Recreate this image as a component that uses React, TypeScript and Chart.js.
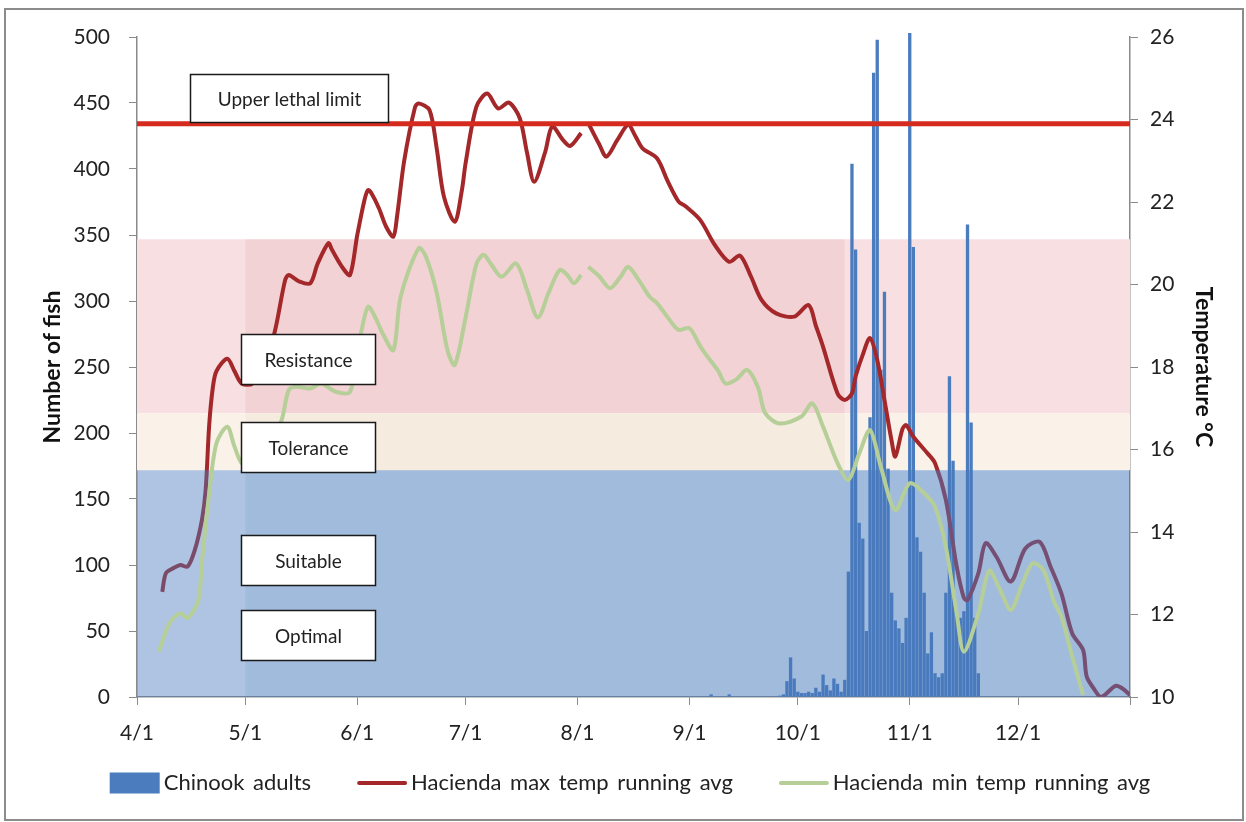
import React, { useEffect, useRef } from "react";
import { Chart, registerables } from "chart.js";

Chart.register(...registerables);

const FONT = 'Lato, "Open Sans", "DejaVu Sans", sans-serif';

// x axis: days since 4/1
const monthTickDays = [0, 30, 61, 91, 122, 153, 183, 214, 244, 275];
const monthTickLabels = ["4/1", "5/1", "6/1", "7/1", "8/1", "9/1", "10/1", "11/1", "12/1", ""];

// Chinook adults (daily counts)
const fishDays = [
  159, 164, 178, 179, 180, 181, 182, 183, 184, 185, 186, 187, 188, 189, 190, 191, 192, 193, 194, 195, 196,
  197, 198, 199, 200, 201, 202, 203, 204, 205, 206, 207, 208, 209, 210, 211, 212, 213, 214, 215, 216, 217,
  218, 219, 220, 221, 222, 223, 224, 225, 226, 227, 228, 229, 230, 231, 232, 233,
];
const fishCounts = [
  2, 2, 1, 2, 12, 30, 14, 4, 3, 3, 4, 3, 7, 4, 17, 9, 5, 14, 10, 4, 13,
  95, 404, 339, 132, 120, 50, 212, 473, 498, 248, 307, 173, 79, 58, 52, 41, 60, 503, 341, 121, 110,
  79, 33, 49, 18, 15, 18, 79, 243, 179, 62, 60, 65, 358, 208, 60, 18,
];

// Hacienda max temp running avg (°C)
const maxTempDays = [
  7, 8, 10, 12, 14, 16, 18, 19, 20, 21, 22, 25, 27, 29, 32, 35, 38, 41, 42, 45, 48, 50, 53, 54, 57, 59,
  61, 63, 64, 65, 67, 69, 71, 72, 74, 77, 78, 81, 83, 85, 88, 90, 91, 94, 97, 100, 103, 106, 108, 110,
  113, 115, 118, 120, 123, 124, 125, 128, 130, 133, 136, 138, 140, 144, 147, 150, 152, 156, 160, 164,
  167, 170, 173, 177, 182, 186, 188, 190, 194, 196, 198, 199, 201, 203, 205, 207, 209, 210, 212, 213,
  215, 219, 221, 224, 227, 229, 230, 233, 235, 238, 242, 246, 250, 253, 256, 259, 262, 263, 265, 267,
  271, 273, 275,
];
const maxTempValues = [
  12.55, 13.0, 13.12, 13.2, 13.16, 13.56, 14.3, 15.0, 16.6, 17.5, 17.9, 18.2, 17.9, 17.6, 17.6, 18.1, 18.8,
  20.1, 20.23, 20.07, 20.03, 20.5, 21.0, 20.84, 20.4, 20.23,
  21.2, 22.05, 22.29, 22.2, 21.85, 21.4, 21.16, 21.64, 23.0, 24.3, 24.39, 24.23, 23.3, 22.13, 21.52, 22.3,
  22.94, 24.31, 24.63, 24.27, 24.41, 24.03, 23.2, 22.49,
  23.2, 23.83, 23.5, 23.36, 23.67, null, 23.91, 23.4, 23.1, 23.5, 23.87, 23.6, 23.3, 23.06, 22.5, 22.01,
  21.89, 21.56, 20.96, 20.55,
  20.7, 20.2, 19.62, 19.3, 19.22, 19.5, 19.0, 18.49, 17.36, 17.2, 17.36, 17.77, 18.3, 18.7, 18.17, 17.2,
  16.2, 15.83, 16.5, 16.59,
  16.31, 15.9, 15.67, 14.78, 13.16, 12.4, 12.35, 13.0, 13.73, 13.4, 12.8, 13.6, 13.76, 13.16, 12.51, 11.54,
  11.14, 10.5, 10.2, 10.0,
  10.27, 10.2, 10.05,
];

// Hacienda min temp running avg (°C)
const minTempDays = [
  6, 9, 12, 14, 17, 18, 20, 22, 25, 27, 29, 32, 36, 40, 42, 44, 48, 51, 55, 59, 62, 64, 66, 68, 71, 73,
  78, 80, 83, 86, 88, 91, 94, 96, 98, 101, 105, 108, 111, 114, 117, 119, 121, 123, 124, 125, 128, 131,
  134, 136, 139, 142, 144, 147, 150, 153, 156, 158, 161, 163, 166, 169, 172, 174, 178, 184, 187, 190,
  194, 197, 200, 203, 206, 210, 214, 218, 221, 224, 227, 229, 233, 236, 239, 242, 245, 248, 251, 254,
  256, 259, 262,
];
const minTempValues = [
  11.1, 11.79, 12.03, 11.91, 12.35, 13.3, 14.94, 16.15, 16.55, 16.07, 15.67, 15.6, 16.0, 16.7, 17.44,
  17.52, 17.48, 17.6, 17.4, 17.4, 18.8, 19.46, 19.2, 18.82, 18.41, 19.7,
  20.88, 20.68, 19.8, 18.4, 18.05, 19.2, 20.5, 20.72, 20.5, 20.19, 20.51, 19.87, 19.2, 19.8, 20.35, 20.25,
  20.03, 20.23, null, 20.43, 20.2, 19.91,
  20.2, 20.43, 20.1, 19.7, 19.55, 19.2, 18.9, 18.94, 18.5, 18.25, 17.9, 17.6, 17.7, 17.93, 17.5, 16.88,
  16.63, 16.8, 17.12, 16.55,
  15.67, 15.26, 15.9, 16.47, 15.58, 14.53, 15.18, 14.94, 14.61, 13.64, 12.03, 11.1, 12.03, 13.06, 12.6,
  12.11, 12.7, 13.24, 13.08, 12.3,
  11.95, 10.98, 10.05,
];

// Temperature zones (°C)
const lethalLimit = 23.9;
const resistanceZone = [16.88, 21.1];
const toleranceZone = [15.5, 16.88];
const suitableZone = [10, 15.5];
const zoneStartDay = 0;
const zoneEndDay = 275;
const zoneStrongFrom = 30;
const zoneWarmStrongTo = 196;

const legendLabels = ["Chinook adults", "Hacienda max temp running avg", "Hacienda min temp running avg"];
const zoneLabels = ["Upper lethal limit", "Resistance", "Tolerance", "Suitable", "Optimal"];

const BAR_COLOR = "#4a7cbe";
const MAX_COLOR = "#a4282a";
const MIN_COLOR = "#b6ce98";
const LETHAL_COLOR = "#d52b1e";
const AXIS_COLOR = "#8a8a8a";
const TEXT_COLOR = "#222222";

// label boxes (day range, temperature range)
const labelBoxes = [
  { x0: 14.75, x1: 69.5, t0: 23.94, t1: 25.1 },
  { x0: 28.9, x1: 66.0, t0: 17.59, t1: 18.8 },
  { x0: 28.9, x1: 66.0, t0: 15.45, t1: 16.67 },
  { x0: 28.9, x1: 66.0, t0: 12.72, t1: 13.93 },
  { x0: 28.9, x1: 66.0, t0: 10.9, t1: 12.11 },
];

const pts = (xs: number[], ys: (number | null)[]) => xs.map((x, i) => ({ x, y: ys[i] }));
const hband = (x0: number, x1: number, y: number) => [
  { x: x0, y },
  { x: x1, y },
];

const bandDs = (data: any[], bottom: number, color: string, order: number) => ({
  type: "line" as const,
  data,
  yAxisID: "yT",
  fill: { value: bottom },
  backgroundColor: color,
  borderColor: "transparent",
  borderWidth: 0,
  pointRadius: 0,
  order,
});

const framePlugin = {
  id: "frame",
  beforeDraw(chart: any) {
    const { ctx, width, height } = chart;
    ctx.save();
    ctx.fillStyle = "#ffffff";
    ctx.fillRect(0, 0, width, height);
    ctx.restore();
  },
  afterDraw(chart: any) {
    const { ctx } = chart;
    ctx.save();
    ctx.strokeStyle = "#8c8c8c";
    ctx.lineWidth = 2;
    ctx.strokeRect(5, 9, 1238, 811);
    ctx.restore();
  },
};

const boxesPlugin = {
  id: "zoneBoxes",
  afterDatasetsDraw(chart: any) {
    const { ctx } = chart;
    const xs = chart.scales.x;
    const ys = chart.scales.yT;
    ctx.save();
    labelBoxes.forEach((b, i) => {
      const x0 = Math.round(xs.getPixelForValue(b.x0)) + 0.5;
      const x1 = Math.round(xs.getPixelForValue(b.x1)) + 0.5;
      const y0 = Math.round(ys.getPixelForValue(b.t1)) + 0.5;
      const y1 = Math.round(ys.getPixelForValue(b.t0)) + 0.5;
      ctx.fillStyle = "#ffffff";
      ctx.fillRect(x0, y0, x1 - x0, y1 - y0);
      ctx.strokeStyle = "#1a1a1a";
      ctx.lineWidth = 1.5;
      ctx.strokeRect(x0, y0, x1 - x0, y1 - y0);
      ctx.fillStyle = TEXT_COLOR;
      ctx.font = `19px ${FONT}`;
      ctx.textAlign = "center";
      ctx.textBaseline = "middle";
      ctx.fillText(zoneLabels[i], (x0 + x1) / 2, (y0 + y1) / 2 + 1);
    });
    ctx.restore();
  },
};

const legendPlugin = {
  id: "customLegend",
  afterDraw(chart: any) {
    const { ctx } = chart;
    const items = [
      { kind: "box", color: BAR_COLOR, text: legendLabels[0] },
      { kind: "line", color: MAX_COLOR, text: legendLabels[1] },
      { kind: "line", color: MIN_COLOR, text: legendLabels[2] },
    ];
    ctx.save();
    ctx.font = `22px ${FONT}`;
    try {
      (ctx as any).wordSpacing = "3px";
    } catch (e) {
      /* ignore */
    }
    const sw = 50;
    const gapText = 4;
    const gapItem = 46;
    const widths = items.map((it) => sw + gapText + ctx.measureText(it.text).width);
    const total = widths.reduce((a, b) => a + b, 0) + gapItem * (items.length - 1);
    let x = 630 - total / 2;
    const cy = 783;
    items.forEach((it, i) => {
      if (it.kind === "box") {
        ctx.fillStyle = it.color;
        ctx.fillRect(x, cy - 10.5, sw, 21);
      } else {
        ctx.strokeStyle = it.color;
        ctx.lineWidth = 4;
        ctx.lineCap = "round";
        ctx.beginPath();
        ctx.moveTo(x + 2, cy);
        ctx.lineTo(x + sw - 2, cy);
        ctx.stroke();
      }
      ctx.fillStyle = TEXT_COLOR;
      ctx.textAlign = "left";
      ctx.textBaseline = "middle";
      ctx.fillText(it.text, x + sw + gapText, cy);
      x += widths[i] + gapItem;
    });
    ctx.restore();
  },
};

export default function App() {
  const canvasRef = useRef<HTMLCanvasElement | null>(null);

  useEffect(() => {
    if (!canvasRef.current) return;
    const tickFont = { family: FONT, size: 21 };
    const chart = new Chart(canvasRef.current, {
      type: "bar",
      data: {
        datasets: [
          bandDs(hband(zoneStartDay, zoneEndDay, resistanceZone[1]), resistanceZone[0], "#f7dfe2", 100),
          bandDs(hband(zoneStrongFrom, zoneWarmStrongTo, resistanceZone[1]), resistanceZone[0], "rgba(210,120,130,0.13)", 99),
          bandDs(hband(zoneStartDay, zoneEndDay, toleranceZone[1]), toleranceZone[0], "#faf2e9", 98),
          bandDs(hband(zoneStrongFrom, zoneWarmStrongTo, toleranceZone[1]), toleranceZone[0], "rgba(215,185,150,0.11)", 97),
          {
            type: "bar" as const,
            label: legendLabels[0],
            data: pts(fishDays, fishCounts),
            yAxisID: "y",
            backgroundColor: BAR_COLOR,
            borderWidth: 0,
            barPercentage: 0.92,
            categoryPercentage: 1,
            clip: { left: 0, top: 8, right: 0, bottom: 0 },
            order: 50,
          } as any,
          {
            type: "line" as const,
            label: legendLabels[1],
            data: pts(maxTempDays, maxTempValues),
            yAxisID: "yT",
            borderColor: MAX_COLOR,
            borderWidth: 4,
            pointRadius: 0,
            tension: 0.3,
            spanGaps: false,
            fill: false,
            order: 40,
          },
          bandDs(hband(zoneStartDay, zoneEndDay, suitableZone[1]), suitableZone[0], "rgba(70,120,190,0.44)", 30),
          bandDs(hband(zoneStrongFrom, zoneEndDay, suitableZone[1]), suitableZone[0], "rgba(70,120,190,0.12)", 29),
          {
            type: "line" as const,
            label: legendLabels[2],
            data: pts(minTempDays, minTempValues),
            yAxisID: "yT",
            borderColor: MIN_COLOR,
            borderWidth: 4,
            pointRadius: 0,
            tension: 0.3,
            spanGaps: false,
            fill: false,
            order: 20,
          },
          {
            type: "line" as const,
            data: hband(zoneStartDay, zoneEndDay, lethalLimit),
            yAxisID: "yT",
            borderColor: LETHAL_COLOR,
            borderWidth: 5,
            pointRadius: 0,
            fill: false,
            order: 10,
          },
        ] as any,
      },
      options: {
        animation: false,
        responsive: true,
        maintainAspectRatio: false,
        layout: { padding: { top: 37, left: 0, right: 0, bottom: 75 } },
        plugins: {
          legend: { display: false },
          tooltip: { enabled: false },
        },
        scales: {
          x: {
            type: "linear",
            min: 0,
            max: 275,
            offset: false,
            afterBuildTicks: (axis: any) => {
              axis.ticks = monthTickDays.map((v) => ({ value: v }));
            },
            afterFit: (axis: any) => {
              axis.height = 50;
            },
            grid: { drawOnChartArea: false, offset: false, tickLength: 8, color: AXIS_COLOR, tickColor: AXIS_COLOR },
            border: { display: true, color: AXIS_COLOR, width: 1.5 },
            ticks: {
              autoSkip: false,
              maxRotation: 0,
              padding: 16,
              color: TEXT_COLOR,
              font: tickFont,
              callback: (value: any) => {
                const i = monthTickDays.indexOf(Number(value));
                return i >= 0 ? monthTickLabels[i] : "";
              },
            },
          },
          y: {
            type: "linear",
            position: "left",
            min: 0,
            max: 500,
            afterFit: (axis: any) => {
              axis.width = 137;
            },
            grid: { drawOnChartArea: false, tickLength: 8, color: AXIS_COLOR, tickColor: AXIS_COLOR },
            border: { display: true, color: AXIS_COLOR, width: 1.5 },
            ticks: { stepSize: 50, padding: 19, color: TEXT_COLOR, font: tickFont },
            title: {
              display: true,
              text: "Number of fish",
              color: "#111111",
              font: { family: FONT, size: 23, weight: "bold" },
              padding: { top: 39, bottom: 0 },
            },
          },
          yT: {
            type: "linear",
            position: "right",
            min: 10,
            max: 26,
            afterFit: (axis: any) => {
              axis.width = 116;
            },
            grid: { drawOnChartArea: false, tickLength: 8, color: AXIS_COLOR, tickColor: AXIS_COLOR },
            border: { display: true, color: AXIS_COLOR, width: 1.5 },
            ticks: { stepSize: 2, padding: 12, color: TEXT_COLOR, font: tickFont },
            title: {
              display: true,
              text: "Temperature °C",
              color: "#111111",
              font: { family: FONT, size: 23, weight: "bold" },
              padding: { top: 29, bottom: 0 },
            },
          },
        },
      } as any,
      plugins: [framePlugin, boxesPlugin, legendPlugin],
    });
    return () => chart.destroy();
  }, []);

  return (
    <div style={{ position: "absolute", left: 0, top: 0, width: 1246, height: 822 }}>
      <canvas ref={canvasRef} />
    </div>
  );
}
